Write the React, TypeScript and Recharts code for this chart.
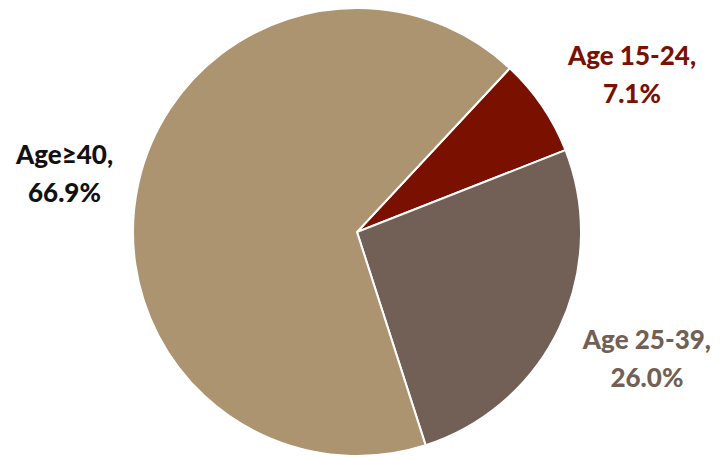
import { PieChart, Pie, Cell } from 'recharts';

const categories = ['Age 15-24', 'Age 25-39', 'Age≥40'];
const shares = [7.1, 26.0, 66.9];
const sliceColors = ['#7A1000', '#725F55', '#AD9470'];
const labelColors = ['#7A1000', '#725F55', '#111111'];

const chartData = categories.map((name, i) => ({
  name,
  value: shares[i],
}));

const RADIAN = Math.PI / 180;
// nudges so each label sits where the original put it
const labelNudge = [
  { dx: 17, dy: 14 },
  { dx: 8, dy: -11 },
  { dx: 12, dy: 6 },
];

const renderLabel = (props: any) => {
  const { cx, cy, midAngle, outerRadius, index, name, value } = props;
  const r = outerRadius + 88;
  const nudge = labelNudge[index];
  const x = cx + r * Math.cos(-midAngle * RADIAN) + nudge.dx;
  const y = cy + r * Math.sin(-midAngle * RADIAN) + nudge.dy;
  return (
    <text
      x={x}
      y={y}
      textAnchor="middle"
      fill={labelColors[index]}
      fontFamily="Lato, sans-serif"
      fontWeight={900}
      fontSize={26}
    >
      <tspan x={x} dy={-6}>{`${name},`}</tspan>
      <tspan x={x} dy={38}>{`${value.toFixed(1)}%`}</tspan>
    </text>
  );
};

export default function App() {
  return (
    <div style={{ width: 722, height: 457, background: '#fff' }}>
      <style>{`body{margin:0}`}</style>
      <PieChart width={722} height={457} margin={{ top: 0, right: 0, bottom: 0, left: 0 }}>
        <Pie
          data={chartData}
          dataKey="value"
          cx={357}
          cy={232}
          outerRadius={224}
          startAngle={47}
          endAngle={-313}
          stroke="#ffffff"
          strokeWidth={2}
          label={renderLabel}
          labelLine={false}
          isAnimationActive={false}
        >
          {chartData.map((entry, index) => (
            <Cell key={`cell-${index}`} fill={sliceColors[index]} />
          ))}
        </Pie>
      </PieChart>
    </div>
  );
}
